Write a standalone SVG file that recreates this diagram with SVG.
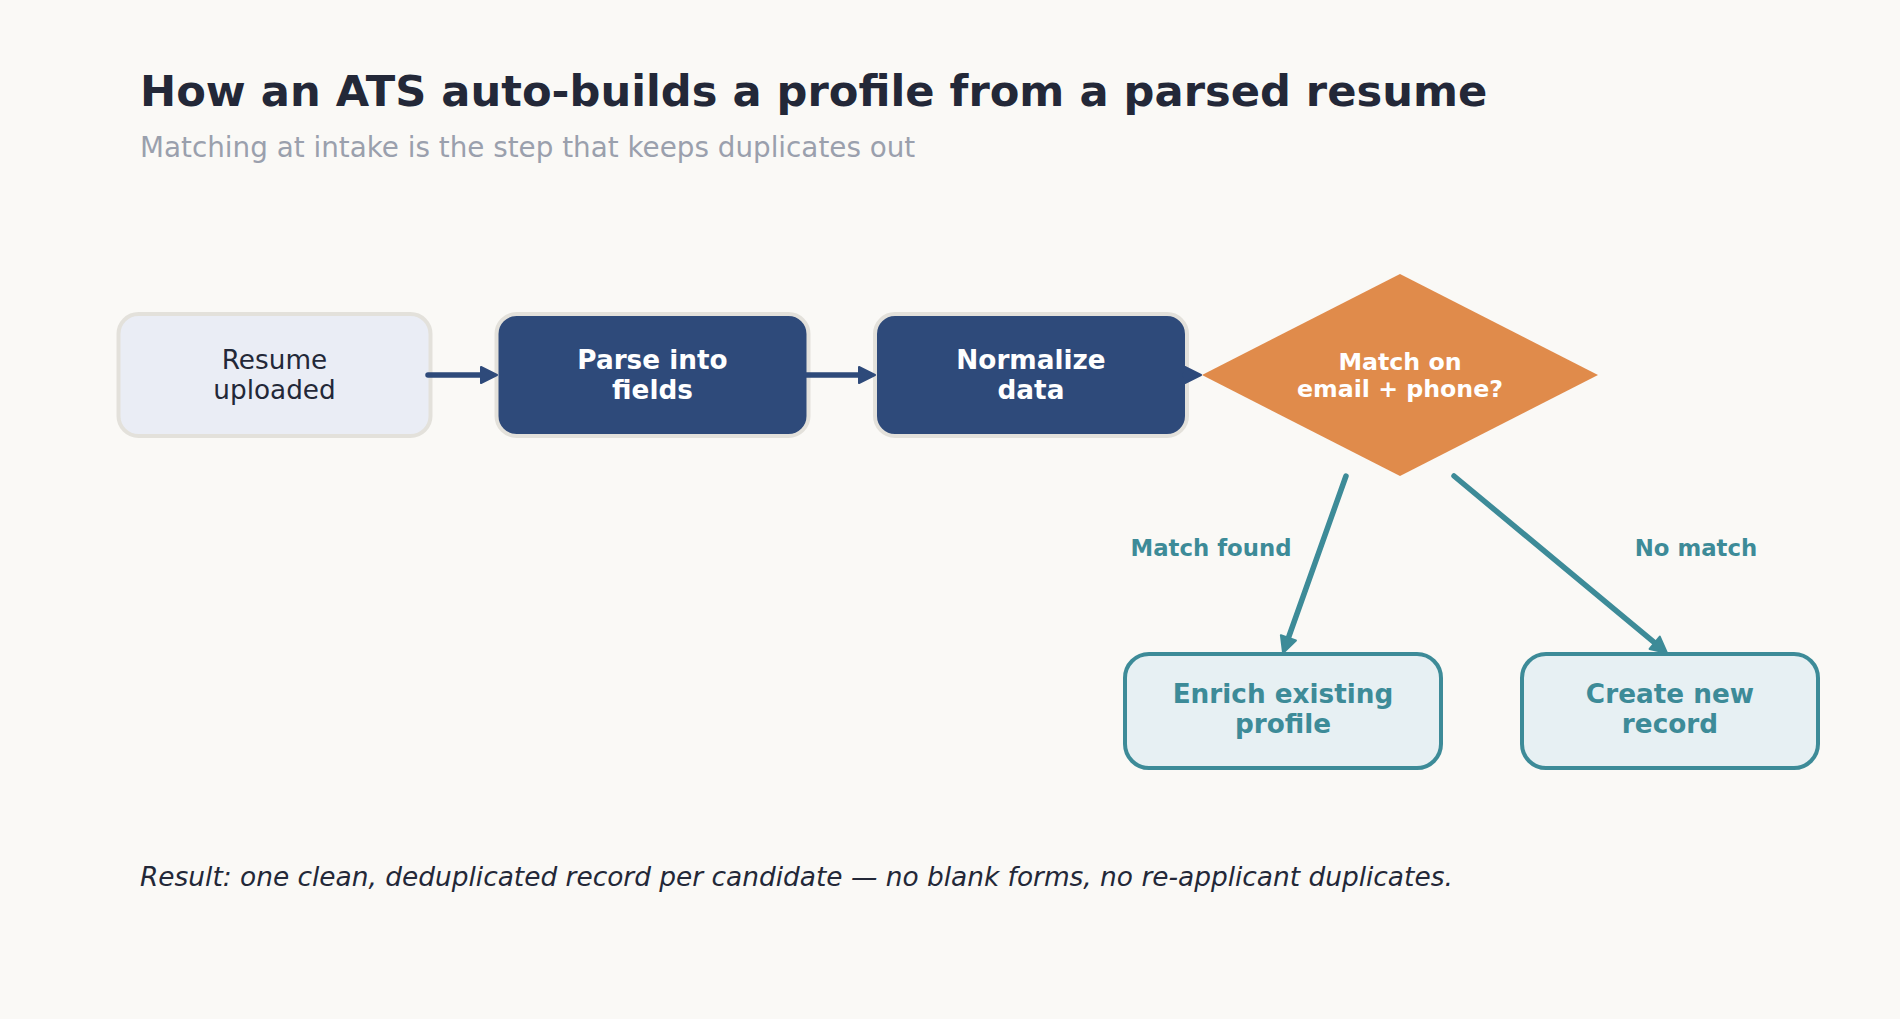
<svg xmlns="http://www.w3.org/2000/svg" width="1900" height="1019" viewBox="0 0 1900 1019">
  <style>
    text { font-family: "DejaVu Sans", "Noto Sans", sans-serif; }
    .title { font-size: 43.2px; font-weight: bold; fill: #232838; }
    .sub { font-size: 27.8px; fill: #9aa0ad; }
    .foot { font-size: 26.4px; font-style: italic; fill: #232838; }
    .node { font-size: 26.3px; text-anchor: middle; }
    .dark { fill: #232838; }
    .light { fill: #ffffff; font-weight: bold; }
    .teal { fill: #3d8b98; font-weight: bold; }
    .dia { font-size: 23.7px; font-weight: bold; fill: #ffffff; text-anchor: middle; }
    .lbl { font-size: 22.8px; font-weight: bold; fill: #3d8b98; text-anchor: middle; }
    .navybox { fill: #2e4a7a; stroke: #e3e1db; stroke-width: 4; }
    .tealbox { fill: #e7f0f3; stroke: #3d8b98; stroke-width: 4; }
    .nav { fill: none; stroke: #2e4a7a; stroke-width: 5.5; stroke-linecap: round; }
    .tl { fill: none; stroke: #3d8b98; stroke-width: 5.5; stroke-linecap: round; }
  </style>
  <defs>
    <marker id="arrNavy" markerUnits="userSpaceOnUse" markerWidth="22" markerHeight="22" viewBox="0 0 22 22" refX="9" refY="11" orient="auto">
      <path d="M3,3 L19,11 L3,19 Z" fill="#2e4a7a" stroke="#2e4a7a" stroke-width="2" stroke-linejoin="round"/>
    </marker>
    <marker id="arrTeal" markerUnits="userSpaceOnUse" markerWidth="22" markerHeight="22" viewBox="0 0 22 22" refX="9" refY="11" orient="auto">
      <path d="M3,3 L19,11 L3,19 Z" fill="#3d8b98" stroke="#3d8b98" stroke-width="2" stroke-linejoin="round"/>
    </marker>
  </defs>
  <rect x="0" y="0" width="1900" height="1019" fill="#faf9f6"/>

  <text class="title" x="140" y="106">How an ATS auto-builds a profile from a parsed resume</text>
  <text class="sub" x="140" y="157">Matching at intake is the step that keeps duplicates out</text>

  <g id="node-resume">
    <rect x="118.5" y="314" width="312" height="122" rx="20" fill="#eaedf5" stroke="#e3e1db" stroke-width="4"/>
    <text class="node dark" x="274.5" y="369">Resume</text>
    <text class="node dark" x="274.5" y="399">uploaded</text>
  </g>
  <g id="node-parse">
    <rect class="navybox" x="496.5" y="314" width="312" height="122" rx="20"/>
    <text class="node light" x="652.5" y="369">Parse into</text>
    <text class="node light" x="652.5" y="399">fields</text>
  </g>
  <g id="node-normalize">
    <rect class="navybox" x="875" y="314" width="312" height="122" rx="20"/>
    <text class="node light" x="1031" y="369">Normalize</text>
    <text class="node light" x="1031" y="399">data</text>
  </g>
  <g id="node-match">
    <polygon points="1400,274 1598,375 1400,476 1202,375" fill="#e08b4b"/>
    <text class="dia" x="1400" y="370">Match on</text>
    <text class="dia" x="1400" y="397">email + phone?</text>
  </g>
  <g id="node-enrich">
    <rect class="tealbox" x="1125" y="654" width="316" height="114" rx="24"/>
    <text class="node teal" x="1283" y="703">Enrich existing</text>
    <text class="node teal" x="1283" y="733">profile</text>
  </g>
  <g id="node-create">
    <rect class="tealbox" x="1522" y="654" width="296" height="114" rx="24"/>
    <text class="node teal" x="1670" y="703">Create new</text>
    <text class="node teal" x="1670" y="733">record</text>
  </g>

  <g id="connectors">
    <path class="nav" d="M428,375 L487,375" marker-end="url(#arrNavy)"/>
    <path class="nav" d="M806,375 L865,375" marker-end="url(#arrNavy)"/>
    <path class="nav" d="M1185,375 L1191,375" marker-end="url(#arrNavy)"/>
    <path class="tl" d="M1346,476 L1286.4,643.5" marker-end="url(#arrTeal)"/>
    <path class="tl" d="M1454,476 L1659.3,646.6" marker-end="url(#arrTeal)"/>
    <text class="lbl" x="1211" y="556">Match found</text>
    <text class="lbl" x="1696" y="556">No match</text>
  </g>

  <text class="foot" x="140" y="886">Result: one clean, deduplicated record per candidate — no blank forms, no re-applicant duplicates.</text>
</svg>
